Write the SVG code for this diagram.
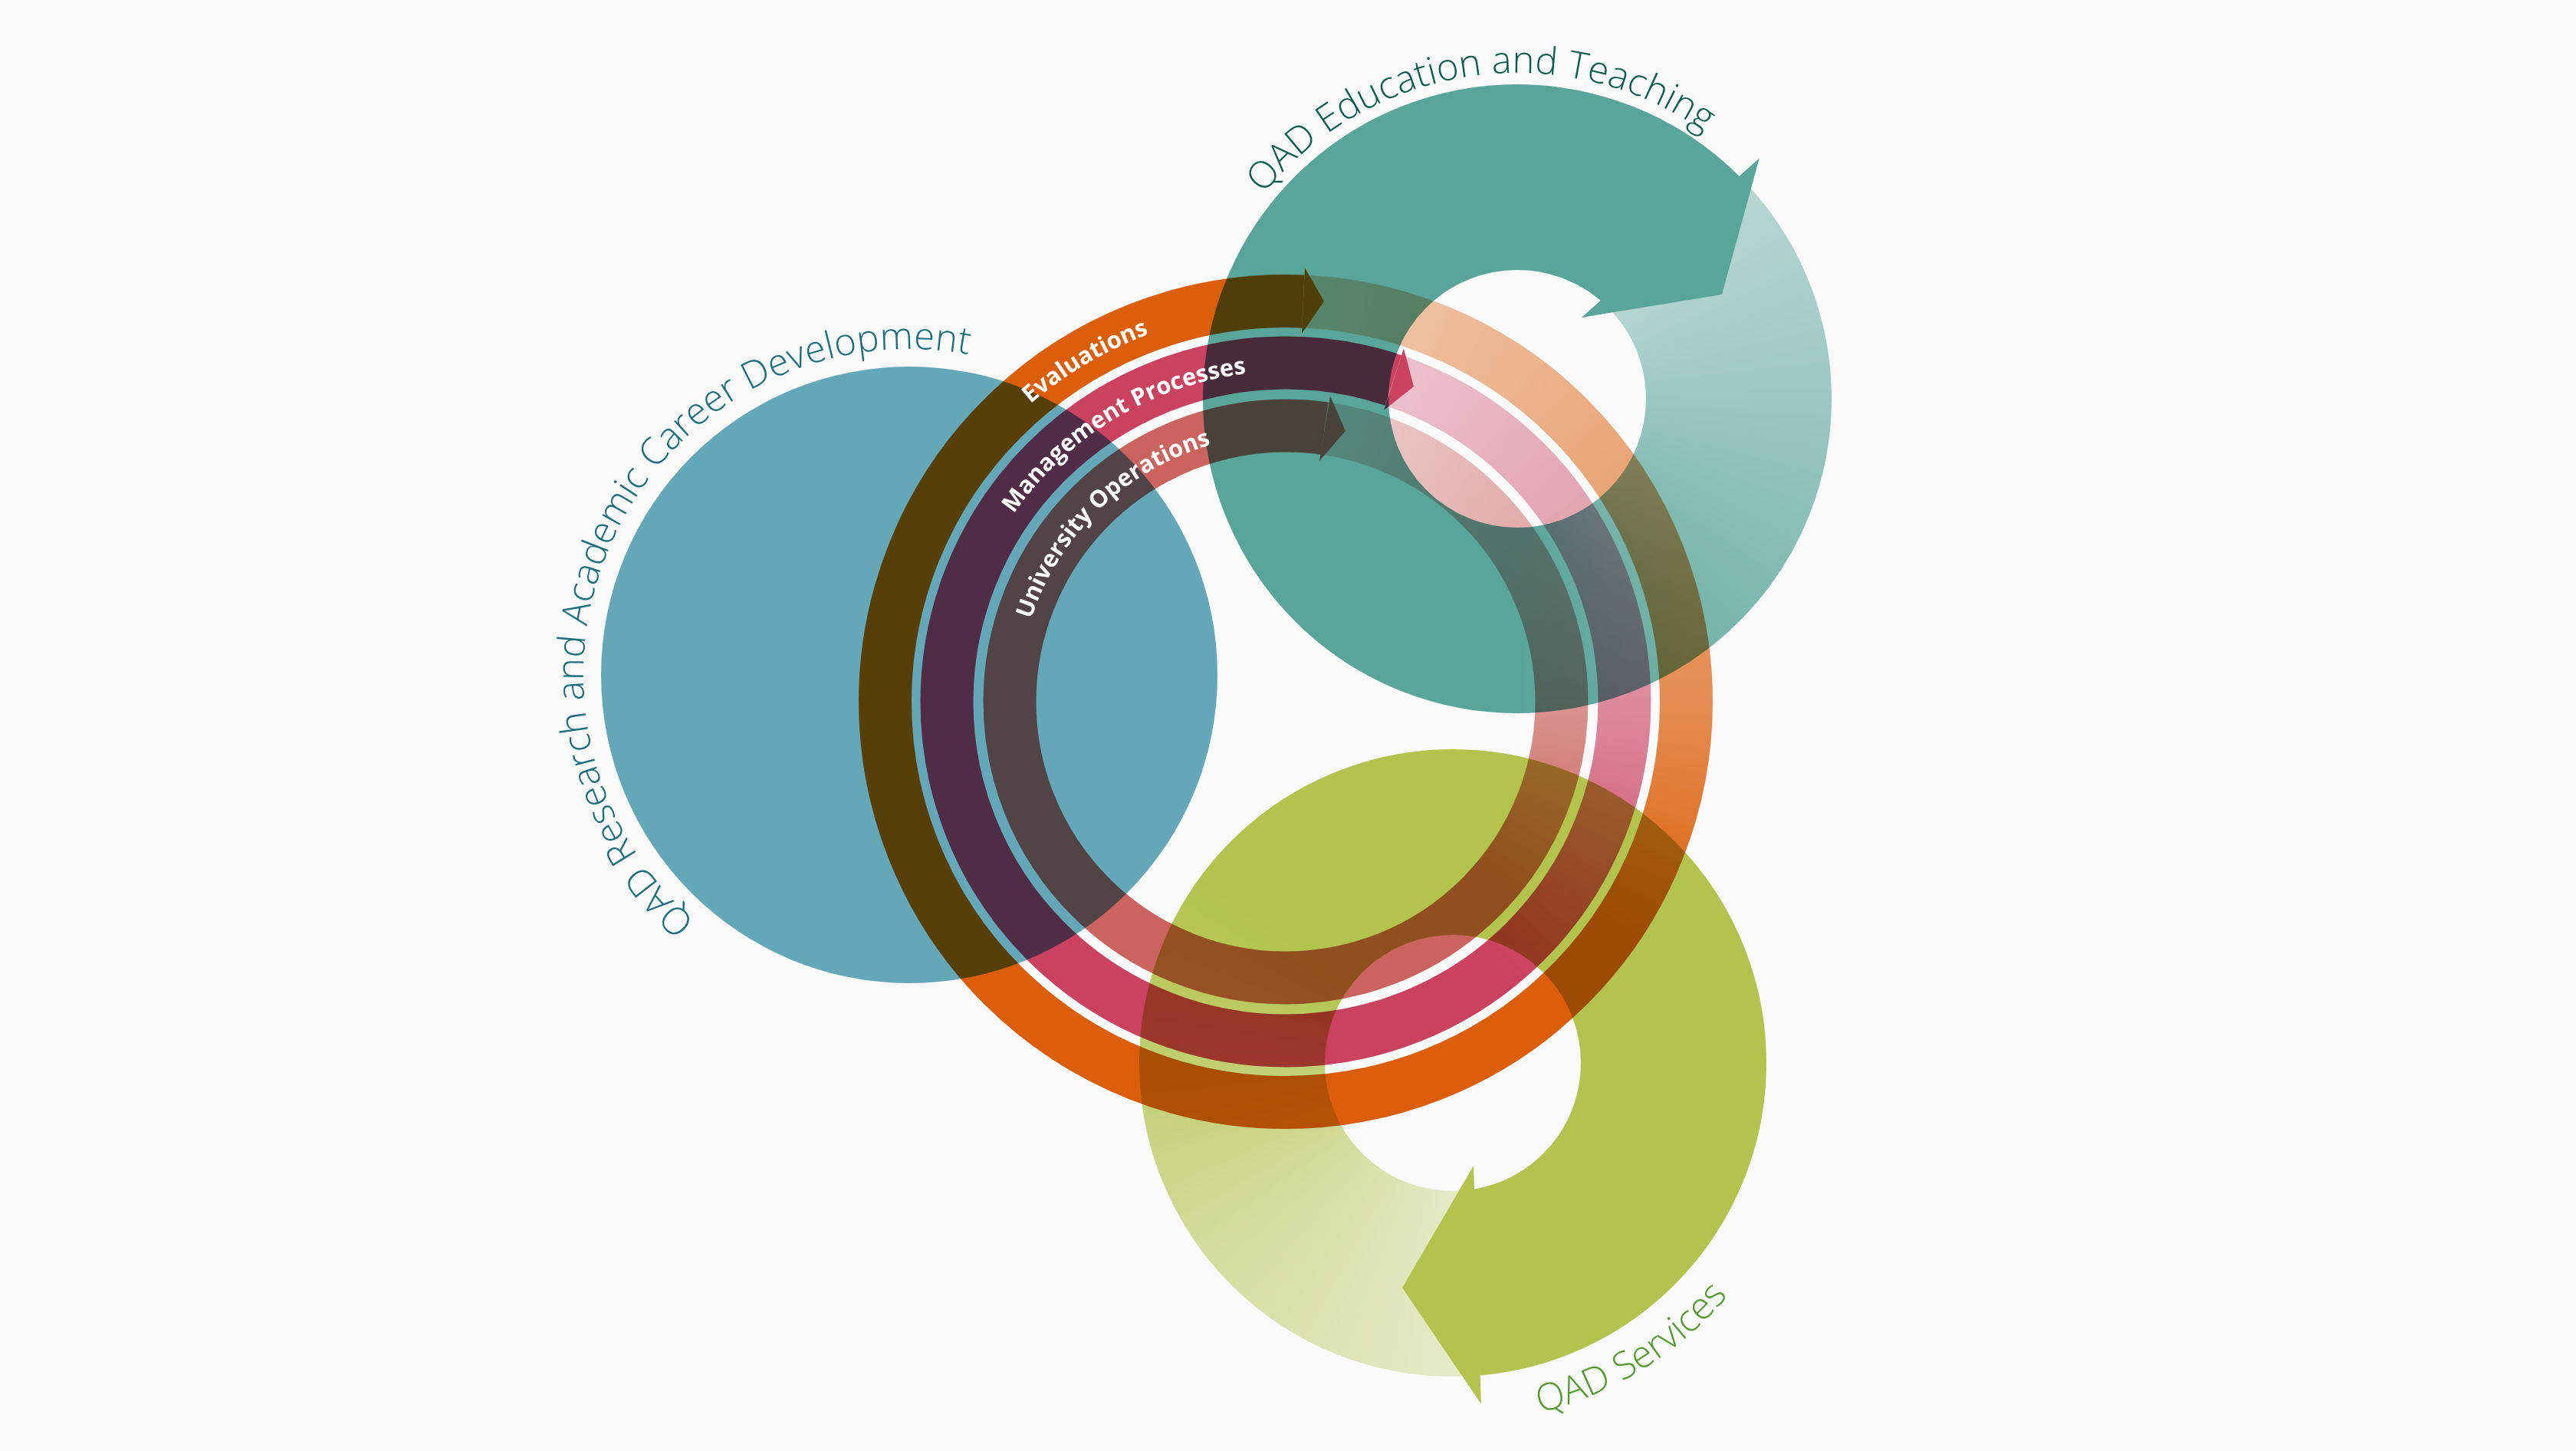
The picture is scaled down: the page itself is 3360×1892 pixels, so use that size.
<svg xmlns="http://www.w3.org/2000/svg" xmlns:xlink="http://www.w3.org/1999/xlink" width="3360" height="1892" viewBox="0 0 3360 1892">
<style>
.mul{mix-blend-mode:multiply}
.lbl{font-family:"Open Sans","Noto Sans","DejaVu Sans",sans-serif;font-size:49px;font-weight:300;text-anchor:middle}
.rl{font-family:"Open Sans","Noto Sans","DejaVu Sans",sans-serif;font-size:31px;font-weight:700;fill:#ffffff;text-anchor:middle}
.band{fill:none;stroke-width:69}
.big{fill:none;stroke-width:242}
</style>
<defs>
<path id="w" d="M0 0L700 0L696.17 73.17Z"/>
<path id="W" d="M0 0L700 0L606.22 350Z"/>
<filter id="soft" filterUnits="userSpaceOnUse" x="-900" y="-900" width="1800" height="1800">
<feGaussianBlur stdDeviation="11"/>
</filter>
<clipPath id="cEva"><path d="M0 0L30.53 -699.33A700 700 0 0 1 30.53 699.33Z"/></clipPath>
<clipPath id="cMan"><path d="M0 0L222.11 -663.82A700 700 0 0 1 -163.42 680.66Z"/></clipPath>
<clipPath id="cUni"><path d="M0 0L98.63 -693.01A700 700 0 0 1 -37.86 698.98Z"/></clipPath>
<clipPath id="cTeal"><path d="M0 0L494.97 -494.97A700 700 0 0 1 -449.95 536.23Z"/></clipPath>
<clipPath id="cGreen"><path d="M0 0L61.01 697.33A700 700 0 0 1 -121.55 -689.37Z"/></clipPath>
<path id="pRes" d="M1070.64 1289.05A425 425 0 1 1 1434.31 535.08"/>
<path id="pEdu" d="M1574.8 651.33A425 425 0 1 1 2403.74 534.83"/>
<path id="pSer" d="M1458.92 1561.31A470 470 0 1 0 2244.83 1072.12"/>
<path id="pEva" d="M1172.51 830.58A511.5 511.5 0 0 1 1847.74 432.84"/>
<path id="pMan" d="M1251.19 848.32A431 431 0 0 1 1816.61 507.24"/>
<path id="pUni" d="M1328.91 940.26A349 349 0 0 1 1712.57 567.82"/>

<mask id="mTeal" maskUnits="userSpaceOnUse" x="0" y="0" width="3360" height="1892">
<rect width="3360" height="1892" fill="#fff"/>
<g transform="translate(1979 520)"><g clip-path="url(#cTeal)"><g filter="url(#soft)">
<use xlink:href="#W" transform="rotate(-72.5)" fill="rgb(105,105,105)"/>
<use xlink:href="#w" transform="rotate(-45)" fill="rgb(105,105,105)"/>
<use xlink:href="#w" transform="rotate(-40)" fill="rgb(110,110,110)"/>
<use xlink:href="#w" transform="rotate(-35)" fill="rgb(115,115,115)"/>
<use xlink:href="#w" transform="rotate(-30)" fill="rgb(121,121,121)"/>
<use xlink:href="#w" transform="rotate(-25)" fill="rgb(126,126,126)"/>
<use xlink:href="#w" transform="rotate(-20)" fill="rgb(132,132,132)"/>
<use xlink:href="#w" transform="rotate(-15)" fill="rgb(137,137,137)"/>
<use xlink:href="#w" transform="rotate(-10)" fill="rgb(142,142,142)"/>
<use xlink:href="#w" transform="rotate(-5)" fill="rgb(148,148,148)"/>
<use xlink:href="#w" transform="rotate(0)" fill="rgb(153,153,153)"/>
<use xlink:href="#w" transform="rotate(5)" fill="rgb(159,159,159)"/>
<use xlink:href="#w" transform="rotate(10)" fill="rgb(164,164,164)"/>
<use xlink:href="#w" transform="rotate(15)" fill="rgb(169,169,169)"/>
<use xlink:href="#w" transform="rotate(20)" fill="rgb(175,175,175)"/>
<use xlink:href="#w" transform="rotate(25)" fill="rgb(180,180,180)"/>
<use xlink:href="#w" transform="rotate(30)" fill="rgb(186,186,186)"/>
<use xlink:href="#w" transform="rotate(35)" fill="rgb(191,191,191)"/>
<use xlink:href="#w" transform="rotate(40)" fill="rgb(197,197,197)"/>
<use xlink:href="#w" transform="rotate(45)" fill="rgb(204,204,204)"/>
<use xlink:href="#w" transform="rotate(50)" fill="rgb(211,211,211)"/>
<use xlink:href="#w" transform="rotate(55)" fill="rgb(217,217,217)"/>
<use xlink:href="#w" transform="rotate(60)" fill="rgb(224,224,224)"/>
<use xlink:href="#w" transform="rotate(65)" fill="rgb(231,231,231)"/>
<use xlink:href="#w" transform="rotate(70)" fill="rgb(237,237,237)"/>
<use xlink:href="#w" transform="rotate(75)" fill="rgb(244,244,244)"/>
<use xlink:href="#w" transform="rotate(80)" fill="rgb(249,249,249)"/>
<use xlink:href="#w" transform="rotate(85)" fill="rgb(251,251,251)"/>
<use xlink:href="#W" transform="rotate(90)" fill="#fff"/>
</g></g></g>
<polygon points="2295,206 2246,384 2063,414" fill="#fff"/>
</mask>

<mask id="mGreen" maskUnits="userSpaceOnUse" x="0" y="0" width="3360" height="1892">
<rect width="3360" height="1892" fill="#fff"/>
<g transform="translate(1895 1386)"><g clip-path="url(#cGreen)"><g filter="url(#soft)">
<use xlink:href="#W" transform="rotate(57.5)" fill="rgb(72,72,72)"/>
<use xlink:href="#w" transform="rotate(85)" fill="rgb(72,72,72)"/>
<use xlink:href="#w" transform="rotate(90)" fill="rgb(78,78,78)"/>
<use xlink:href="#w" transform="rotate(95)" fill="rgb(84,84,84)"/>
<use xlink:href="#w" transform="rotate(100)" fill="rgb(90,90,90)"/>
<use xlink:href="#w" transform="rotate(105)" fill="rgb(96,96,96)"/>
<use xlink:href="#w" transform="rotate(110)" fill="rgb(102,102,102)"/>
<use xlink:href="#w" transform="rotate(115)" fill="rgb(108,108,108)"/>
<use xlink:href="#w" transform="rotate(120)" fill="rgb(113,113,113)"/>
<use xlink:href="#w" transform="rotate(125)" fill="rgb(119,119,119)"/>
<use xlink:href="#w" transform="rotate(130)" fill="rgb(125,125,125)"/>
<use xlink:href="#w" transform="rotate(135)" fill="rgb(131,131,131)"/>
<use xlink:href="#w" transform="rotate(140)" fill="rgb(137,137,137)"/>
<use xlink:href="#w" transform="rotate(145)" fill="rgb(145,145,145)"/>
<use xlink:href="#w" transform="rotate(150)" fill="rgb(154,154,154)"/>
<use xlink:href="#w" transform="rotate(155)" fill="rgb(163,163,163)"/>
<use xlink:href="#w" transform="rotate(160)" fill="rgb(172,172,172)"/>
<use xlink:href="#w" transform="rotate(165)" fill="rgb(181,181,181)"/>
<use xlink:href="#w" transform="rotate(170)" fill="rgb(190,190,190)"/>
<use xlink:href="#w" transform="rotate(175)" fill="rgb(199,199,199)"/>
<use xlink:href="#w" transform="rotate(180)" fill="rgb(208,208,208)"/>
<use xlink:href="#w" transform="rotate(185)" fill="rgb(215,215,215)"/>
<use xlink:href="#w" transform="rotate(190)" fill="rgb(222,222,222)"/>
<use xlink:href="#w" transform="rotate(195)" fill="rgb(230,230,230)"/>
<use xlink:href="#w" transform="rotate(200)" fill="rgb(237,237,237)"/>
<use xlink:href="#w" transform="rotate(205)" fill="rgb(244,244,244)"/>
<use xlink:href="#w" transform="rotate(210)" fill="rgb(251,251,251)"/>
<use xlink:href="#W" transform="rotate(215)" fill="#fff"/>
</g></g></g>
<polygon points="1932,1831 1829,1679 1922,1520" fill="#fff"/>
</mask>

<mask id="mEva" maskUnits="userSpaceOnUse" x="0" y="0" width="3360" height="1892">
<rect width="3360" height="1892" fill="#fff"/>
<g transform="translate(1677 915)"><g clip-path="url(#cEva)"><g filter="url(#soft)">
<use xlink:href="#W" transform="rotate(-115)" fill="rgb(79,79,79)"/>
<use xlink:href="#w" transform="rotate(-87.5)" fill="rgb(79,79,79)"/>
<use xlink:href="#w" transform="rotate(-82.5)" fill="rgb(85,85,85)"/>
<use xlink:href="#w" transform="rotate(-77.5)" fill="rgb(91,91,91)"/>
<use xlink:href="#w" transform="rotate(-72.5)" fill="rgb(97,97,97)"/>
<use xlink:href="#w" transform="rotate(-67.5)" fill="rgb(103,103,103)"/>
<use xlink:href="#w" transform="rotate(-62.5)" fill="rgb(109,109,109)"/>
<use xlink:href="#w" transform="rotate(-57.5)" fill="rgb(114,114,114)"/>
<use xlink:href="#w" transform="rotate(-52.5)" fill="rgb(120,120,120)"/>
<use xlink:href="#w" transform="rotate(-47.5)" fill="rgb(126,126,126)"/>
<use xlink:href="#w" transform="rotate(-42.5)" fill="rgb(132,132,132)"/>
<use xlink:href="#w" transform="rotate(-37.5)" fill="rgb(138,138,138)"/>
<use xlink:href="#w" transform="rotate(-32.5)" fill="rgb(144,144,144)"/>
<use xlink:href="#w" transform="rotate(-27.5)" fill="rgb(149,149,149)"/>
<use xlink:href="#w" transform="rotate(-22.5)" fill="rgb(155,155,155)"/>
<use xlink:href="#w" transform="rotate(-17.5)" fill="rgb(161,161,161)"/>
<use xlink:href="#w" transform="rotate(-12.5)" fill="rgb(167,167,167)"/>
<use xlink:href="#w" transform="rotate(-7.5)" fill="rgb(173,173,173)"/>
<use xlink:href="#w" transform="rotate(-2.5)" fill="rgb(179,179,179)"/>
<use xlink:href="#w" transform="rotate(2.5)" fill="rgb(189,189,189)"/>
<use xlink:href="#w" transform="rotate(7.5)" fill="rgb(200,200,200)"/>
<use xlink:href="#w" transform="rotate(12.5)" fill="rgb(211,211,211)"/>
<use xlink:href="#w" transform="rotate(17.5)" fill="rgb(222,222,222)"/>
<use xlink:href="#w" transform="rotate(22.5)" fill="rgb(233,233,233)"/>
<use xlink:href="#w" transform="rotate(27.5)" fill="rgb(244,244,244)"/>
<use xlink:href="#W" transform="rotate(32.5)" fill="#fff"/>
</g></g></g>
<polygon points="1702,349 1727,393 1698,435" fill="#fff"/>
</mask>

<mask id="mMan" maskUnits="userSpaceOnUse" x="0" y="0" width="3360" height="1892">
<rect width="3360" height="1892" fill="#fff"/>
<g transform="translate(1677 915)"><g clip-path="url(#cMan)"><g filter="url(#soft)">
<use xlink:href="#W" transform="rotate(-99)" fill="rgb(79,79,79)"/>
<use xlink:href="#w" transform="rotate(-71.5)" fill="rgb(79,79,79)"/>
<use xlink:href="#w" transform="rotate(-66.5)" fill="rgb(85,85,85)"/>
<use xlink:href="#w" transform="rotate(-61.5)" fill="rgb(90,90,90)"/>
<use xlink:href="#w" transform="rotate(-56.5)" fill="rgb(95,95,95)"/>
<use xlink:href="#w" transform="rotate(-51.5)" fill="rgb(101,101,101)"/>
<use xlink:href="#w" transform="rotate(-46.5)" fill="rgb(106,106,106)"/>
<use xlink:href="#w" transform="rotate(-41.5)" fill="rgb(111,111,111)"/>
<use xlink:href="#w" transform="rotate(-36.5)" fill="rgb(117,117,117)"/>
<use xlink:href="#w" transform="rotate(-31.5)" fill="rgb(122,122,122)"/>
<use xlink:href="#w" transform="rotate(-26.5)" fill="rgb(127,127,127)"/>
<use xlink:href="#w" transform="rotate(-21.5)" fill="rgb(133,133,133)"/>
<use xlink:href="#w" transform="rotate(-16.5)" fill="rgb(138,138,138)"/>
<use xlink:href="#w" transform="rotate(-11.5)" fill="rgb(143,143,143)"/>
<use xlink:href="#w" transform="rotate(-6.5)" fill="rgb(149,149,149)"/>
<use xlink:href="#w" transform="rotate(-1.5)" fill="rgb(155,155,155)"/>
<use xlink:href="#w" transform="rotate(3.5)" fill="rgb(165,165,165)"/>
<use xlink:href="#w" transform="rotate(8.5)" fill="rgb(175,175,175)"/>
<use xlink:href="#w" transform="rotate(13.5)" fill="rgb(186,186,186)"/>
<use xlink:href="#w" transform="rotate(18.5)" fill="rgb(196,196,196)"/>
<use xlink:href="#w" transform="rotate(23.5)" fill="rgb(206,206,206)"/>
<use xlink:href="#w" transform="rotate(28.5)" fill="rgb(216,216,216)"/>
<use xlink:href="#w" transform="rotate(33.5)" fill="rgb(226,226,226)"/>
<use xlink:href="#w" transform="rotate(38.5)" fill="rgb(237,237,237)"/>
<use xlink:href="#w" transform="rotate(43.5)" fill="rgb(247,247,247)"/>
<use xlink:href="#W" transform="rotate(48.5)" fill="#fff"/>
</g></g></g>
<polygon points="1831,454 1844,504 1805,535" fill="#fff"/>
</mask>

<mask id="mUni" maskUnits="userSpaceOnUse" x="0" y="0" width="3360" height="1892">
<rect width="3360" height="1892" fill="#fff"/>
<g transform="translate(1677 915)"><g clip-path="url(#cUni)"><g filter="url(#soft)">
<use xlink:href="#W" transform="rotate(-109.4)" fill="rgb(79,79,79)"/>
<use xlink:href="#w" transform="rotate(-81.9)" fill="rgb(79,79,79)"/>
<use xlink:href="#w" transform="rotate(-76.9)" fill="rgb(85,85,85)"/>
<use xlink:href="#w" transform="rotate(-71.9)" fill="rgb(91,91,91)"/>
<use xlink:href="#w" transform="rotate(-66.9)" fill="rgb(97,97,97)"/>
<use xlink:href="#w" transform="rotate(-61.9)" fill="rgb(103,103,103)"/>
<use xlink:href="#w" transform="rotate(-56.9)" fill="rgb(109,109,109)"/>
<use xlink:href="#w" transform="rotate(-51.9)" fill="rgb(115,115,115)"/>
<use xlink:href="#w" transform="rotate(-46.9)" fill="rgb(121,121,121)"/>
<use xlink:href="#w" transform="rotate(-41.9)" fill="rgb(127,127,127)"/>
<use xlink:href="#w" transform="rotate(-36.9)" fill="rgb(133,133,133)"/>
<use xlink:href="#w" transform="rotate(-31.9)" fill="rgb(139,139,139)"/>
<use xlink:href="#w" transform="rotate(-26.9)" fill="rgb(145,145,145)"/>
<use xlink:href="#w" transform="rotate(-21.9)" fill="rgb(150,150,150)"/>
<use xlink:href="#w" transform="rotate(-16.9)" fill="rgb(156,156,156)"/>
<use xlink:href="#w" transform="rotate(-11.9)" fill="rgb(162,162,162)"/>
<use xlink:href="#w" transform="rotate(-6.9)" fill="rgb(168,168,168)"/>
<use xlink:href="#w" transform="rotate(-1.9)" fill="rgb(175,175,175)"/>
<use xlink:href="#w" transform="rotate(3.1)" fill="rgb(185,185,185)"/>
<use xlink:href="#w" transform="rotate(8.1)" fill="rgb(195,195,195)"/>
<use xlink:href="#w" transform="rotate(13.1)" fill="rgb(205,205,205)"/>
<use xlink:href="#w" transform="rotate(18.1)" fill="rgb(215,215,215)"/>
<use xlink:href="#w" transform="rotate(23.1)" fill="rgb(226,226,226)"/>
<use xlink:href="#w" transform="rotate(28.1)" fill="rgb(236,236,236)"/>
<use xlink:href="#w" transform="rotate(33.1)" fill="rgb(246,246,246)"/>
<use xlink:href="#W" transform="rotate(38.1)" fill="#fff"/>
</g></g></g>
<polygon points="1735,516 1755,562 1721,601" fill="#fff"/>
</mask>
</defs>

<rect id="background" width="3360" height="1892" fill="#fafafa"/>

<g id="research">
<circle class="mul" cx="1186" cy="880" r="402" fill="#66abbd"/>
<text class="lbl" fill="#1c6d7f"><textPath xlink:href="#pRes" startOffset="50%">QAD Research and Academic Career Development</textPath></text>
</g>

<g id="education">
<g class="mul" mask="url(#mTeal)">
<circle class="big" cx="1979" cy="520" r="289" stroke="#5ba89d"/>
<polygon points="2295,206 2246,384 2063,414" fill="#5ba89d"/>
</g>
<text class="lbl" fill="#0e5e50"><textPath xlink:href="#pEdu" startOffset="50%">QAD Education and Teaching</textPath></text>
</g>

<g id="services">
<g class="mul" mask="url(#mGreen)">
<circle class="big" cx="1895" cy="1386" r="288" stroke="#b6c84f"/>
<polygon points="1932,1831 1829,1679 1922,1520" fill="#b6c84f"/>
</g>
<text class="lbl" fill="#549a2e"><textPath xlink:href="#pSer" startOffset="50%">QAD Services</textPath></text>
</g>

<g id="evaluations">
<g class="mul" mask="url(#mEva)">
<circle class="band" cx="1677" cy="915" r="522.5" stroke="#e1600a"/>
<polygon points="1702,349 1727,393 1698,435" fill="#e1600a"/>
</g>
<text class="rl"><textPath xlink:href="#pEva" startOffset="50%">Evaluations</textPath></text>
</g>

<g id="management">
<g class="mul" mask="url(#mMan)">
<circle class="band" cx="1677" cy="915" r="442" stroke="#cf4262"/>
<polygon points="1831,454 1844,504 1805,535" fill="#cf4262"/>
</g>
<text class="rl"><textPath xlink:href="#pMan" startOffset="50%">Management Processes</textPath></text>
</g>

<g id="operations">
<g class="mul" mask="url(#mUni)">
<circle class="band" cx="1677" cy="915" r="360" stroke="#cf6660"/>
<polygon points="1735,516 1755,562 1721,601" fill="#cf6660"/>
</g>
<text class="rl"><textPath xlink:href="#pUni" startOffset="50%">University Operations</textPath></text>
</g>
</svg>
